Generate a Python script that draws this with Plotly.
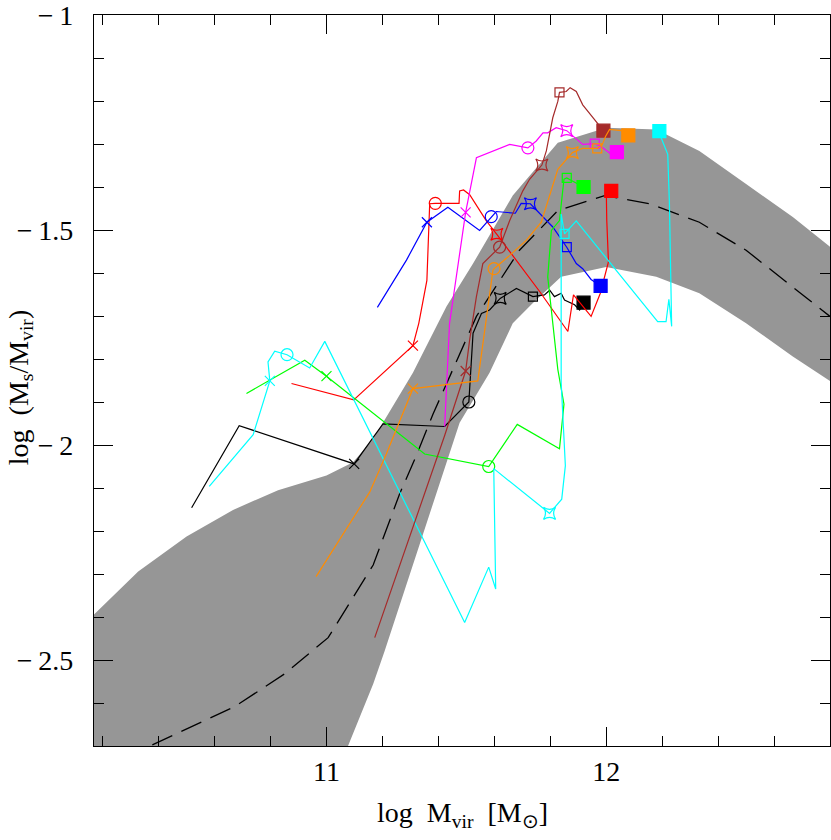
import plotly.graph_objects as go

# grey band (16-84 percentile) and median of the sample
band_up_x = [10.169, 10.327, 10.5, 10.666, 10.827, 11.0, 11.095, 11.167, 11.309, 11.429,
             11.524, 11.666, 11.827, 12.0, 12.179, 12.333, 12.5, 12.667, 12.8]
band_up_y = [-2.394, -2.294, -2.213, -2.151, -2.105, -2.071, -2.040, -1.986, -1.832, -1.678,
             -1.578, -1.420, -1.297, -1.262, -1.266, -1.316, -1.393, -1.470, -1.539]
band_lo_x = [10.1, 11.015, 11.077, 11.167, 11.208, 11.476, 11.583, 11.666, 11.738, 11.839,
             12.0, 12.179, 12.333, 12.5, 12.667, 12.8]
band_lo_y = [-2.8, -2.8, -2.7, -2.556, -2.479, -1.948, -1.832, -1.717, -1.670, -1.609,
             -1.586, -1.609, -1.647, -1.717, -1.794, -1.851]
med_x = [10.17, 10.673, 10.851, 11.006, 11.167, 11.262, 11.321, 11.381, 11.536, 11.69,
         11.827, 11.994, 12.155, 12.333, 12.5, 12.667, 12.8]
med_y = [-2.76, -2.608, -2.532, -2.448, -2.279, -2.113, -2.025, -1.928, -1.701, -1.547,
         -1.455, -1.420, -1.439, -1.482, -1.547, -1.632, -1.701]

# individual galaxy tracks: (x, y) and index of x / circle / star / open square marks
black_x = [10.518, 10.688, 11.099, 11.202, 11.4225, 11.509, 11.524, 11.554, 11.583, 11.621,
           11.679, 11.738, 11.779, 11.798, 11.815, 11.839, 11.851, 11.887, 11.905, 11.919]
black_y = [-2.146, -1.955, -2.044, -1.951, -1.957, -1.900, -1.740, -1.694, -1.686, -1.659,
           -1.636, -1.655, -1.651, -1.640, -1.655, -1.647, -1.663, -1.674, -1.686, -1.669]
black_marks = [2, 5, 9, 11]

red_x = [10.875, 11.0975, 11.309, 11.330, 11.359, 11.369, 11.389, 11.474, 11.476, 11.490,
         11.512, 11.571, 11.609, 11.762, 11.863, 11.883, 11.946, 11.979, 12.008, 12.002,
         12.0, 12.018]
red_y = [-1.857, -1.895, -1.769, -1.717, -1.617, -1.439, -1.438, -1.438, -1.409, -1.407,
         -1.418, -1.478, -1.510, -1.643, -1.736, -1.651, -1.701, -1.647, -1.574, -1.478,
         -1.397, -1.409]
red_marks = [2, 6, 12, None]

blue_x = [11.182, 11.286, 11.359, 11.434, 11.5475, 11.577, 11.589, 11.607, 11.675, 11.696,
          11.729, 11.774, 11.809, 11.859, 11.893, 11.916, 11.946, 11.980]
blue_y = [-1.680, -1.570, -1.482, -1.447, -1.501, -1.478, -1.469, -1.457, -1.461, -1.438,
          -1.439, -1.470, -1.493, -1.540, -1.578, -1.590, -1.615, -1.630]
blue_marks = [2, 6, 10, 13]

green_x = [10.714, 10.9225, 11.0, 11.327, 11.351, 11.580, 11.682, 11.833, 11.849, 11.827,
           11.791, 11.804, 11.833, 11.849, 11.859, 11.899, 11.919]
green_y = [-1.880, -1.803, -1.840, -2.009, -2.021, -2.050, -1.952, -2.009, -1.905, -1.824,
           -1.609, -1.501, -1.478, -1.382, -1.379, -1.393, -1.400]
green_marks = [2, 5, None, 14]

cyan_x = [10.581, 10.738, 10.7975, 10.791, 10.815, 10.859, 10.940, 10.994, 11.494, 11.580,
          11.605, 11.598, 11.7975, 11.841, 11.854, 11.839, 11.839, 11.851, 11.893, 12.184,
          12.214, 12.224, 12.234, 12.226, 12.220, 12.196, 12.190]
cyan_y = [-2.096, -1.976, -1.851, -1.807, -1.782, -1.790, -1.821, -1.759, -2.413, -2.284,
          -2.335, -2.055, -2.159, -2.126, -2.048, -1.855, -1.463, -1.509, -1.479, -1.713,
          -1.713, -1.661, -1.724, -1.439, -1.324, -1.285, -1.270]
cyan_marks = [2, 5, 12, 17]

magenta_x = [11.4225, 11.440, 11.4975, 11.536, 11.655, 11.720, 11.750, 11.774, 11.791, 11.821,
             11.859, 11.916, 11.959, 11.988, 12.018, 12.038]
magenta_y = [-1.957, -1.717, -1.459, -1.332, -1.301, -1.309, -1.293, -1.274, -1.274, -1.262,
             -1.269, -1.301, -1.299, -1.309, -1.324, -1.319]
magenta_marks = [2, 5, 10, 12]

brown_x = [11.1725, 11.4225, 11.4975, 11.512, 11.536, 11.559, 11.619, 11.655, 11.702, 11.726,
           11.770, 11.786, 11.809, 11.827, 11.833, 11.857, 11.871, 11.893, 11.916, 11.976,
           11.990]
brown_y = [-2.448, -1.978, -1.828, -1.755, -1.655, -1.578, -1.540, -1.478, -1.409, -1.382,
           -1.349, -1.316, -1.239, -1.201, -1.180, -1.178, -1.169, -1.178, -1.209, -1.259,
           -1.269]
brown_marks = [2, 6, 10, 14]

orange_x = [10.963, 11.155, 11.214, 11.309, 11.541, 11.595, 11.599, 11.655, 11.714, 11.768,
            11.827, 11.879, 11.916, 11.968, 11.986, 11.998, 12.012, 12.054, 12.079]
orange_y = [-2.306, -2.109, -2.021, -1.869, -1.851, -1.594, -1.590, -1.559, -1.524, -1.482,
            -1.359, -1.320, -1.310, -1.310, -1.301, -1.282, -1.266, -1.269, -1.280]
orange_marks = [3, 6, 11, 13]

tracks = [
    (black_x, black_y, black_marks, "black"),
    (red_x, red_y, red_marks, "#ff0000"),
    (blue_x, blue_y, blue_marks, "#0000ff"),
    (green_x, green_y, green_marks, "#00ff00"),
    (cyan_x, cyan_y, cyan_marks, "#00ffff"),
    (magenta_x, magenta_y, magenta_marks, "#ff00ff"),
    (brown_x, brown_y, brown_marks, "#a52a2a"),
    (orange_x, orange_y, orange_marks, "#ff8c00"),
]

FONT = "Liberation Serif"
NB = "\u00a0"

fig = go.Figure()

# band as one closed polygon
fig.add_trace(go.Scatter(
    x=band_up_x + band_lo_x[::-1], y=band_up_y + band_lo_y[::-1],
    mode="lines", fill="toself", fillcolor="#969696",
    line=dict(width=0), hoverinfo="skip", showlegend=False
))
fig.add_trace(go.Scatter(
    x=med_x, y=med_y, mode="lines",
    line=dict(color="black", width=1.3, dash="22px,10px"),
    hoverinfo="skip", showlegend=False
))

mark_syms = ["x-thin-open", "circle-open", "star-square-open", "square-open"]
mark_size = [10, 12, 11, 9]

for xs, ys, marks, col in tracks:
    syms = ["circle"] * len(xs)
    sizes = [0] * len(xs)
    for sym, sz, idx in zip(mark_syms, mark_size, marks):
        if idx is not None:
            syms[idx] = sym
            sizes[idx] = sz
    syms[-1] = "square"
    sizes[-1] = 13
    fig.add_trace(go.Scatter(
        x=xs, y=ys, mode="lines+markers",
        line=dict(color=col, width=1.2),
        marker=dict(symbol=syms, size=sizes, color=col, opacity=1,
                    line=dict(color=col, width=1.2)),
        hoverinfo="skip", showlegend=False
    ))

axis_common = dict(
    showline=True, linecolor="black", linewidth=1.3, mirror="allticks",
    ticks="inside", ticklen=19, tickwidth=1.3, tickcolor="black",
    showgrid=False, zeroline=False, ticklabeloverflow="allow",
    tickfont=dict(family=FONT, size=28, color="black"),
)

fig.update_xaxes(
    range=[10.169, 12.8], tickvals=[11, 12], ticktext=["11", "12"],
    minor=dict(ticks="inside", dtick=0.2, tick0=0, ticklen=10, tickwidth=1.3, tickcolor="black"),
    ticklabelstandoff=0, **axis_common
)
fig.update_yaxes(
    range=[-2.7, -1.0], tickvals=[-2.5, -2, -1.5, -1],
    ticktext=["−\u20092.5", "−\u20092", "−\u20091.5", "−\u20091"],
    minor=dict(ticks="inside", dtick=0.1, tick0=0, ticklen=10, tickwidth=1.3, tickcolor="black"),
    ticklabelstandoff=14, **axis_common
)

fig.add_annotation(
    text=f"log{NB}{NB}M<sub>vir</sub>{NB}{NB}[M<sub>⊙</sub>]", xref="paper", yref="paper",
    x=0.5, y=-0.094, xanchor="center", yanchor="middle", showarrow=False,
    font=dict(family=FONT, size=28, color="black")
)
fig.add_annotation(
    text=f"log{NB}{NB}(M<sub>s</sub>/M<sub>vir</sub>)", xref="paper", yref="paper",
    x=-0.1, y=0.49, xanchor="center", yanchor="middle", textangle=-90, showarrow=False,
    font=dict(family=FONT, size=28, color="black")
)

fig.update_layout(
    width=831, height=840,
    margin=dict(l=94, r=0, t=10, b=94),
    paper_bgcolor="white", plot_bgcolor="white",
    showlegend=False,
)

# the page has a default 8px body margin; drop it so the figure fills the window
fig.write_html("out.html", config={"displayModeBar": False},
               post_script="document.body.style.margin='0';")
